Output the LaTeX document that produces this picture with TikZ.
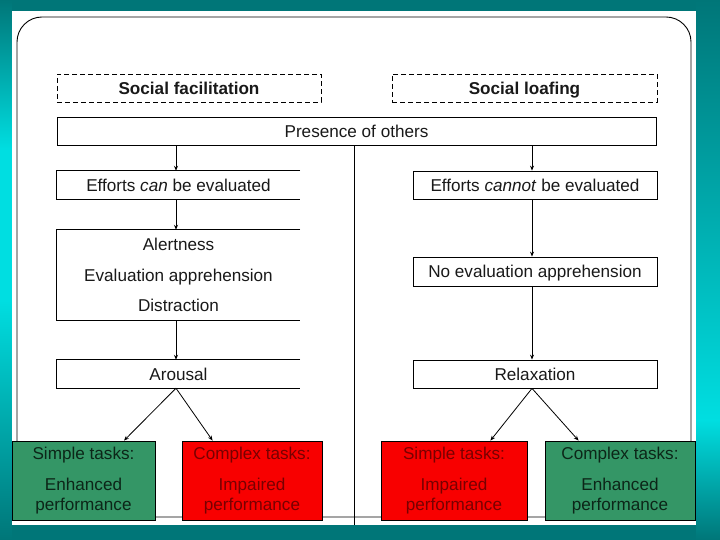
\documentclass[tikz,border=0pt]{standalone}
\usepackage{fontspec}
\setmainfont{Liberation Sans}
\usetikzlibrary{arrows.meta,calc}
\definecolor{tealdk}{RGB}{0,118,120}
\definecolor{cyanlt}{RGB}{0,222,225}
\definecolor{boxgreen}{RGB}{52,150,102}
\definecolor{boxred}{RGB}{248,0,0}
\definecolor{txtred}{RGB}{120,0,0}
\definecolor{txtgreen}{RGB}{12,38,24}
\definecolor{txt}{RGB}{25,25,25}
\begin{document}
\begin{tikzpicture}[x=1bp,y=-1bp,
  font=\fontsize{17.2}{20}\selectfont,
  box/.style={draw, line width=0.8bp, minimum height=28bp, inner sep=0pt, text=txt, text height=15bp, text depth=2bp},
  dashbox/.style={box, dashed, dash pattern=on 5bp off 3bp, font=\fontsize{17.2}{20}\selectfont\bfseries},
  openbox/.style={minimum height=28bp, inner sep=0pt, text=txt},
  openline/.style={line width=0.8bp},
  arr/.style={-{Stealth[length=5bp,width=4bp]}, line width=0.8bp},
  result/.style={draw=black, line width=0.8bp, minimum height=79bp, inner sep=0pt, align=center},
  good/.style={result, fill=boxgreen, text=txtgreen},
  bad/.style={result, fill=boxred, text=txtred}
]
% background
\useasboundingbox (0,0) rectangle (720,540);
\fill[tealdk] (0,0) rectangle (720,540);
\shade[top color=tealdk, bottom color=cyanlt] (0,0) rectangle (12,150);
\fill[cyanlt] (0,150) rectangle (12,300);
\shade[top color=cyanlt, bottom color=tealdk] (0,300) rectangle (12,540);
\shade[top color=tealdk, bottom color=cyanlt] (696,0) rectangle (720,420);
\shade[top color=cyanlt, bottom color=tealdk] (696,420) rectangle (720,540);
\fill[white] (12,11) rectangle (696,525);
\draw[line width=0.9bp, rounded corners=25bp] (17,17) rectangle (691,517);

% headers
\node[dashbox, minimum width=264bp] (sf) at (189,88) {Social facilitation};
\node[dashbox, minimum width=265bp] (sl) at (524.5,88) {Social loafing};
\node[box, minimum width=599bp] (po) at (356.5,131) {Presence of others};

% divider
\coordinate (divbot) at (354,525);
\draw[line width=0.8bp] (po.south -| divbot) -- (divbot);

% left column (open on the right)
\node[openbox, minimum width=243bp, text height=15bp, text depth=2bp] (ecan) at (178.5,185) {Efforts \textit{can} be evaluated};
\node[openbox, minimum width=243bp, minimum height=90bp, align=center, font=\fontsize{17.2}{30.5}\selectfont] (aed) at (178.5,275) {Alertness\\Evaluation apprehension\\Distraction};
\node[openbox, minimum width=243bp, text height=15bp, text depth=2bp] (aro) at (178.5,374) {Arousal};
\foreach \n in {ecan,aed,aro}
  \draw[openline] (\n.north east) -- (\n.north west) -- (\n.south west) -- (\n.south east);

% right column
\node[box, minimum width=244bp] (ecannot) at (535,185) {Efforts \textit{cannot} be evaluated};
\node[box, minimum width=244bp, minimum height=29bp] (noe) at (535,271.5) {No evaluation apprehension};
\node[box, minimum width=244bp] (rel) at (535,374) {Relaxation};

% results
\node[good, minimum width=143bp] (g1) at (83.5,480.5) {Simple tasks:\\[12bp]Enhanced\\performance};
\node[bad, minimum width=140bp] (r1) at (252,480.5) {Complex tasks:\\[12bp]Impaired\\performance};
\node[bad, minimum width=146bp] (r2) at (454,480.5) {Simple tasks:\\[12bp]Impaired\\performance};
\node[good, minimum width=150bp] (g2) at (620,480.5) {Complex tasks:\\[12bp]Enhanced\\performance};

% arrows
\coordinate (lx) at (176,0);
\coordinate (rx) at (532,0);
\draw[arr] (po.south -| lx) -- (ecan.north -| lx);
\draw[arr] (ecan.south -| lx) -- (aed.north -| lx);
\draw[arr] (aed.south -| lx) -- (aro.north -| lx);
\draw[arr] (po.south -| rx) -- (ecannot.north -| rx);
\draw[arr] (ecannot.south -| rx) -- (noe.north -| rx);
\draw[arr] (noe.south -| rx) -- (rel.north -| rx);
\draw[arr] (aro.south -| lx) -- ([xshift=40.5bp]g1.north);
\draw[arr] (aro.south -| lx) -- ([xshift=31bp]r1.north west);
\draw[arr] (rel.south -| rx) -- ([xshift=-37bp]r2.north east);
\draw[arr] (rel.south -| rx) -- ([xshift=34bp]g2.north west);
\end{tikzpicture}
\end{document}
